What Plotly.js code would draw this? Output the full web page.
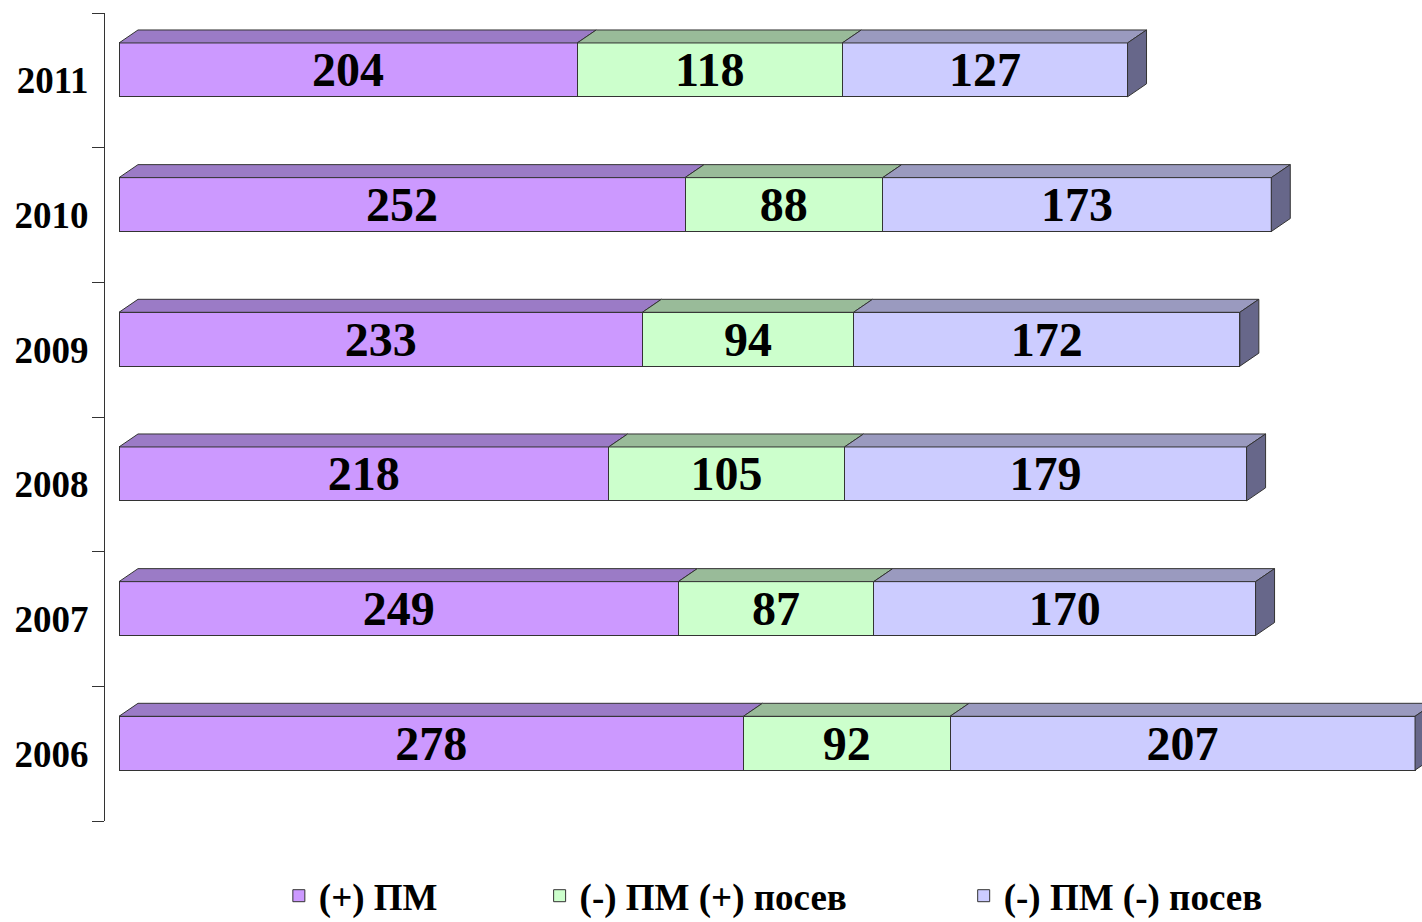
<!DOCTYPE html>
<html>
<head>
<meta charset="utf-8">
<script src="https://cdn.plot.ly/plotly-3.0.1.min.js"></script>
<style>html,body{margin:0;padding:0;background:#fff;}#chart{width:1422px;height:922px;}</style>
</head>
<body>
<div id="chart"></div>
<script>
const years = ['2006', '2007', '2008', '2009', '2010', '2011'];
const seriesNames = ['(+) ПМ', '(-) ПМ (+) посев', '(-) ПМ (-) посев'];
const pmPlus = [278, 249, 218, 233, 252, 204];
const pmMinusSowPlus = [92, 87, 105, 94, 88, 118];
const pmMinusSowMinus = [207, 170, 179, 172, 173, 127];

const seriesValues = [pmPlus, pmMinusSowPlus, pmMinusSowMinus];
const faceColors = ['#CC99FF', '#CCFFCC', '#CCCCFF'];
const topColors = ['#9B7BC6', '#99BB99', '#9A9ABF'];
const sideColor = '#67678A';
const edgeColor = '#333333';
const legendIds = ['legend', 'legend2', 'legend3'];

const barWidth = 0.4;
const barOffset = -0.1225;
const depthX = 8.46;
const depthY = 0.0965;

const labelFont = {family: 'Liberation Serif, Times New Roman, serif', size: 48, color: '#000', weight: 'bold'};

const traces = seriesValues.map((vals, i) => ({
  type: 'bar',
  orientation: 'h',
  name: seriesNames[i],
  y: years,
  x: vals,
  width: barWidth,
  offset: barOffset,
  marker: {color: faceColors[i], line: {color: edgeColor, width: 1}},
  text: vals.map(String),
  textposition: 'inside',
  insidetextanchor: 'middle',
  constraintext: 'none',
  textangle: 0,
  textfont: labelFont,
  hoverinfo: 'none',
  legend: legendIds[i]
}));

// 3D faces computed from the data
const shapes = [];
years.forEach((yr, j) => {
  const yBot = j + barOffset;
  const yTop = yBot + barWidth;
  let start = 0;
  seriesValues.forEach((vals, i) => {
    const end = start + vals[j];
    shapes.push({
      type: 'path', xref: 'x', yref: 'y', layer: 'above',
      path: `M${start},${yTop} L${end},${yTop} L${end + depthX},${yTop + depthY} L${start + depthX},${yTop + depthY} Z`,
      fillcolor: topColors[i],
      line: {color: edgeColor, width: 1}
    });
    start = end;
  });
  shapes.push({
    type: 'path', xref: 'x', yref: 'y', layer: 'above',
    path: `M${start},${yBot} L${start},${yTop} L${start + depthX},${yTop + depthY} L${start + depthX},${yBot + depthY} Z`,
    fillcolor: sideColor,
    line: {color: edgeColor, width: 1}
  });
});

const legendFont = {family: 'Liberation Serif, Times New Roman, serif', size: 37, color: '#000', weight: 'bold'};
const legendBase = {orientation: 'h', yanchor: 'middle', y: -0.093, xanchor: 'left', font: legendFont, bgcolor: 'rgba(0,0,0,0)', borderwidth: 0};

const layout = {
  width: 1422,
  height: 922,
  margin: {l: 105, r: 0, t: 13, b: 101, autoexpand: false},
  paper_bgcolor: '#fff',
  plot_bgcolor: '#fff',
  barmode: 'stack',
  showlegend: true,
  xaxis: {range: [-6.233, 580.1], visible: false, fixedrange: true},
  yaxis: {
    type: 'category',
    categoryorder: 'array',
    categoryarray: years,
    range: [-0.5, 5.5],
    showline: true, linecolor: '#333', linewidth: 1,
    ticks: 'outside', ticklen: 12, tickcolor: '#333', tickwidth: 1,
    tickson: 'boundaries',
    ticklabelstandoff: 8,
    showgrid: false, zeroline: false,
    tickfont: {family: 'Liberation Serif, Times New Roman, serif', size: 37, color: '#000', weight: 'bold'},
    fixedrange: true
  },
  legend: Object.assign({}, legendBase, {x: 0.132}),
  legend2: Object.assign({}, legendBase, {x: 0.33}),
  legend3: Object.assign({}, legendBase, {x: 0.652}),
  shapes: shapes,
  hovermode: false
};

Plotly.newPlot('chart', traces, layout, {displayModeBar: false, staticPlot: true});
</script>
</body>
</html>
